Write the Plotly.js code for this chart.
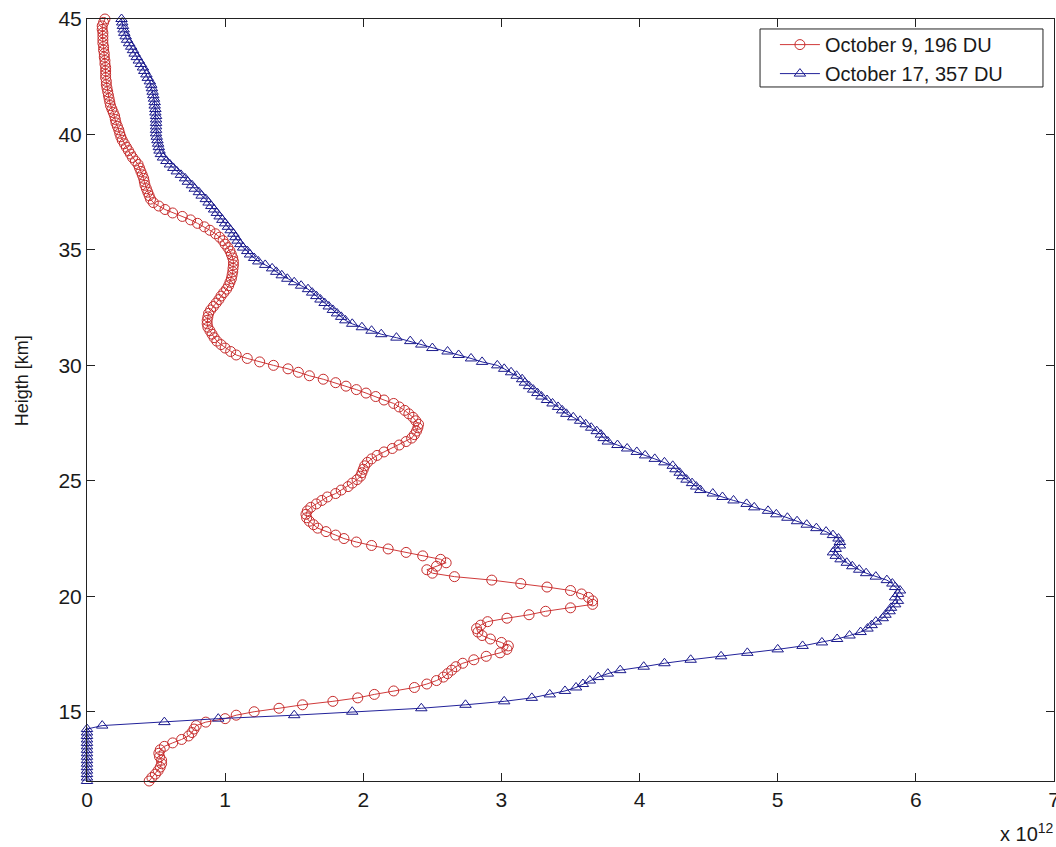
<!DOCTYPE html>
<html>
<head>
<meta charset="utf-8">
<script src="https://cdn.plot.ly/plotly-3.0.1.min.js"></script>
<style>
  html, body { margin: 0; padding: 0; background: #ffffff; }
  #chart { width: 1056px; height: 847px; }
</style>
</head>
<body>
<div id="chart"></div>
<script>
// Altitude levels (km)
var heights = [
  12.00, 12.15, 12.30, 12.45, 12.60, 12.75, 12.90, 13.05, 13.20, 13.35,
  13.50, 13.65, 13.80, 13.95, 14.10, 14.25, 14.40, 14.55, 14.70, 14.85,
  15.00, 15.15, 15.30, 15.45, 15.60, 15.75, 15.90, 16.05, 16.20, 16.35,
  16.50, 16.65, 16.80, 16.95, 17.10, 17.25, 17.40, 17.55, 17.70, 17.85,
  18.00, 18.15, 18.30, 18.45, 18.60, 18.75, 18.90, 19.05, 19.20, 19.35,
  19.50, 19.65, 19.80, 19.95, 20.10, 20.25, 20.40, 20.55, 20.70, 20.85,
  21.00, 21.15, 21.30, 21.45, 21.60, 21.75, 21.90, 22.05, 22.20, 22.35,
  22.50, 22.65, 22.80, 22.95, 23.10, 23.25, 23.40, 23.55, 23.70, 23.85,
  24.00, 24.15, 24.30, 24.45, 24.60, 24.75, 24.90, 25.05, 25.20, 25.35,
  25.50, 25.65, 25.80, 25.95, 26.10, 26.25, 26.40, 26.55, 26.70, 26.85,
  27.00, 27.15, 27.30, 27.45, 27.60, 27.75, 27.90, 28.05, 28.20, 28.35,
  28.50, 28.65, 28.80, 28.95, 29.10, 29.25, 29.40, 29.55, 29.70, 29.85,
  30.00, 30.15, 30.30, 30.45, 30.60, 30.75, 30.90, 31.05, 31.20, 31.35,
  31.50, 31.65, 31.80, 31.95, 32.10, 32.25, 32.40, 32.55, 32.70, 32.85,
  33.00, 33.15, 33.30, 33.45, 33.60, 33.75, 33.90, 34.05, 34.20, 34.35,
  34.50, 34.65, 34.80, 34.95, 35.10, 35.25, 35.40, 35.55, 35.70, 35.85,
  36.00, 36.15, 36.30, 36.45, 36.60, 36.75, 36.90, 37.05, 37.20, 37.35,
  37.50, 37.65, 37.80, 37.95, 38.10, 38.25, 38.40, 38.55, 38.70, 38.85,
  39.00, 39.15, 39.30, 39.45, 39.60, 39.75, 39.90, 40.05, 40.20, 40.35,
  40.50, 40.65, 40.80, 40.95, 41.10, 41.25, 41.40, 41.55, 41.70, 41.85,
  42.00, 42.15, 42.30, 42.45, 42.60, 42.75, 42.90, 43.05, 43.20, 43.35,
  43.50, 43.65, 43.80, 43.95, 44.10, 44.25, 44.40, 44.55, 44.70, 44.85,
  45.00
];

// October 9, 196 DU  (x 10^12)
var oct9 = [
  0.450, 0.470, 0.495, 0.515, 0.530, 0.540, 0.540, 0.525, 0.520, 0.530,
  0.560, 0.620, 0.685, 0.735, 0.760, 0.775, 0.790, 0.860, 1.000, 1.080,
  1.210, 1.390, 1.560, 1.780, 1.960, 2.080, 2.220, 2.370, 2.460, 2.530,
  2.580, 2.610, 2.640, 2.670, 2.720, 2.800, 2.890, 2.990, 3.040, 3.050,
  3.000, 2.920, 2.860, 2.830, 2.820, 2.850, 2.900, 3.040, 3.200, 3.320,
  3.500, 3.660, 3.660, 3.630, 3.580, 3.500, 3.330, 3.140, 2.930, 2.660,
  2.500, 2.460, 2.530, 2.600, 2.560, 2.430, 2.310, 2.180, 2.060, 1.950,
  1.860, 1.800, 1.730, 1.670, 1.640, 1.610, 1.590, 1.585, 1.595, 1.620,
  1.660, 1.700, 1.740, 1.800, 1.840, 1.890, 1.920, 1.955, 1.980, 1.990,
  2.000, 2.010, 2.030, 2.060, 2.100, 2.150, 2.210, 2.260, 2.310, 2.350,
  2.370, 2.385, 2.395, 2.400, 2.380, 2.360, 2.330, 2.300, 2.260, 2.220,
  2.150, 2.090, 2.020, 1.950, 1.875, 1.800, 1.710, 1.610, 1.530, 1.455,
  1.350, 1.250, 1.160, 1.080, 1.040, 1.000, 0.970, 0.940, 0.920, 0.905,
  0.890, 0.875, 0.870, 0.870, 0.875, 0.880, 0.895, 0.915, 0.935, 0.955,
  0.970, 0.990, 1.010, 1.025, 1.035, 1.045, 1.050, 1.055, 1.057, 1.060,
  1.060, 1.055, 1.045, 1.035, 1.020, 1.000, 0.985, 0.960, 0.930, 0.890,
  0.850, 0.800, 0.750, 0.690, 0.620, 0.565, 0.520, 0.480, 0.460, 0.450,
  0.440, 0.430, 0.420, 0.415, 0.410, 0.400, 0.390, 0.380, 0.370, 0.350,
  0.330, 0.315, 0.300, 0.285, 0.270, 0.255, 0.245, 0.237, 0.230, 0.220,
  0.210, 0.205, 0.200, 0.190, 0.180, 0.170, 0.165, 0.160, 0.155, 0.150,
  0.145, 0.140, 0.140, 0.135, 0.135, 0.135, 0.135, 0.130, 0.130, 0.125,
  0.125, 0.120, 0.120, 0.115, 0.115, 0.115, 0.115, 0.110, 0.110, 0.120,
  0.130
];

// October 17, 357 DU  (x 10^12)
var oct17 = [
  0.000, 0.000, 0.000, 0.000, 0.000, 0.000, 0.000, 0.000, 0.000, 0.000,
  0.000, 0.000, 0.000, 0.000, 0.000, 0.000, 0.110, 0.560, 0.950, 1.500,
  1.920, 2.420, 2.740, 3.020, 3.220, 3.350, 3.460, 3.540, 3.590, 3.640,
  3.700, 3.770, 3.860, 4.030, 4.180, 4.370, 4.590, 4.780, 5.000, 5.180,
  5.320, 5.430, 5.520, 5.600, 5.650, 5.680, 5.710, 5.760, 5.780, 5.810,
  5.820, 5.850, 5.870, 5.850, 5.870, 5.885, 5.850, 5.830, 5.790, 5.710,
  5.640, 5.590, 5.540, 5.500, 5.455, 5.420, 5.400, 5.420, 5.450, 5.450,
  5.440, 5.400, 5.350, 5.280, 5.210, 5.140, 5.070, 4.990, 4.930, 4.830,
  4.775, 4.680, 4.600, 4.530, 4.440, 4.410, 4.380, 4.340, 4.310, 4.290,
  4.260, 4.240, 4.180, 4.110, 4.040, 3.980, 3.910, 3.840, 3.770, 3.740,
  3.720, 3.690, 3.650, 3.610, 3.570, 3.520, 3.470, 3.440, 3.410, 3.370,
  3.330, 3.290, 3.260, 3.230, 3.200, 3.170, 3.150, 3.110, 3.070, 3.020,
  2.970, 2.860, 2.780, 2.690, 2.610, 2.500, 2.420, 2.340, 2.240, 2.130,
  2.060, 1.990, 1.920, 1.870, 1.840, 1.810, 1.780, 1.750, 1.720, 1.690,
  1.660, 1.630, 1.600, 1.550, 1.500, 1.450, 1.410, 1.370, 1.340, 1.290,
  1.240, 1.210, 1.180, 1.160, 1.130, 1.110, 1.090, 1.075, 1.060, 1.040,
  1.020, 1.000, 0.980, 0.960, 0.940, 0.920, 0.900, 0.880, 0.860, 0.830,
  0.810, 0.780, 0.760, 0.730, 0.710, 0.680, 0.650, 0.625, 0.600, 0.575,
  0.550, 0.535, 0.525, 0.520, 0.515, 0.510, 0.505, 0.500, 0.500, 0.500,
  0.500, 0.500, 0.500, 0.495, 0.495, 0.490, 0.490, 0.485, 0.480, 0.475,
  0.470, 0.465, 0.455, 0.440, 0.430, 0.415, 0.405, 0.390, 0.375, 0.360,
  0.345, 0.333, 0.320, 0.305, 0.290, 0.280, 0.270, 0.265, 0.260, 0.255,
  0.250
];

var seriesNames = ['October 9, 196 DU', 'October 17, 357 DU'];
var xTicks = [0, 1, 2, 3, 4, 5, 6, 7];
var yTicks = [15, 20, 25, 30, 35, 40, 45];

var FONT = 'Liberation Sans, Arial, Helvetica, sans-serif';

var traces = [
  {
    x: oct9, y: heights, name: seriesNames[0],
    type: 'scatter', mode: 'lines+markers', cliponaxis: false,
    line: { color: '#d03a3a', width: 1 },
    marker: { symbol: 'circle-open', size: 10, color: '#c62c2c', line: { width: 1 } }
  },
  {
    x: oct17, y: heights, name: seriesNames[1],
    type: 'scatter', mode: 'lines+markers', cliponaxis: false,
    line: { color: '#22229a', width: 1 },
    marker: { symbol: 'triangle-up-open', size: 10, color: '#1a1a8c', line: { width: 1 } }
  }
];

var layout = {
  width: 1056, height: 847,
  margin: { l: 87, r: 2, t: 19, b: 66, pad: 0 },
  paper_bgcolor: '#ffffff', plot_bgcolor: '#ffffff',
  font: { family: FONT, size: 20, color: '#1a1a1a' },
  showlegend: true,
  legend: {
    x: 0.7114, xanchor: 'left', y: 0.992, yanchor: 'top',
    bgcolor: 'rgba(0,0,0,0)', borderwidth: 0,
    font: { family: FONT, size: 20, color: '#1a1a1a' },
    tracegroupgap: 0, itemwidth: 40
  },
  shapes: [
    {
      type: 'rect', xref: 'paper', yref: 'paper', layer: 'above',
      x0: 0.696, x1: 0.9886, y0: 0.9108, y1: 0.9869,
      line: { color: '#222222', width: 1 }, fillcolor: '#ffffff'
    }
  ],
  xaxis: {
    range: [0, 7], tickvals: xTicks, ticktext: xTicks.map(String),
    showgrid: false, zeroline: false, ticklabeloverflow: 'allow',
    showline: true, linecolor: '#222222', linewidth: 1, mirror: 'ticks',
    ticks: 'inside', ticklen: 8, tickcolor: '#222222', tickwidth: 1,
    tickfont: { family: FONT, size: 21, color: '#1a1a1a' }
  },
  yaxis: {
    range: [12, 45], tickvals: yTicks, ticktext: yTicks.map(String),
    showgrid: false, zeroline: false, ticklabeloverflow: 'allow',
    showline: true, linecolor: '#222222', linewidth: 1, mirror: 'ticks',
    ticks: 'inside', ticklen: 8, tickcolor: '#222222', tickwidth: 1,
    tickfont: { family: FONT, size: 21, color: '#1a1a1a' }
  },
  annotations: [
    {
      text: 'Heigth [km]', textangle: -90,
      xref: 'paper', yref: 'paper', x: -0.067, y: 0.525,
      xanchor: 'center', yanchor: 'middle', showarrow: false,
      font: { family: FONT, size: 18, color: '#1a1a1a' }
    },
    {
      text: 'x 10<sup>12</sup>',
      xref: 'paper', yref: 'paper', x: 1.002, y: -0.086,
      xanchor: 'right', yanchor: 'bottom', showarrow: false,
      font: { family: FONT, size: 20, color: '#1a1a1a' }
    }
  ]
};

Plotly.newPlot('chart', traces, layout, { displayModeBar: false, staticPlot: true });
</script>
</body>
</html>
